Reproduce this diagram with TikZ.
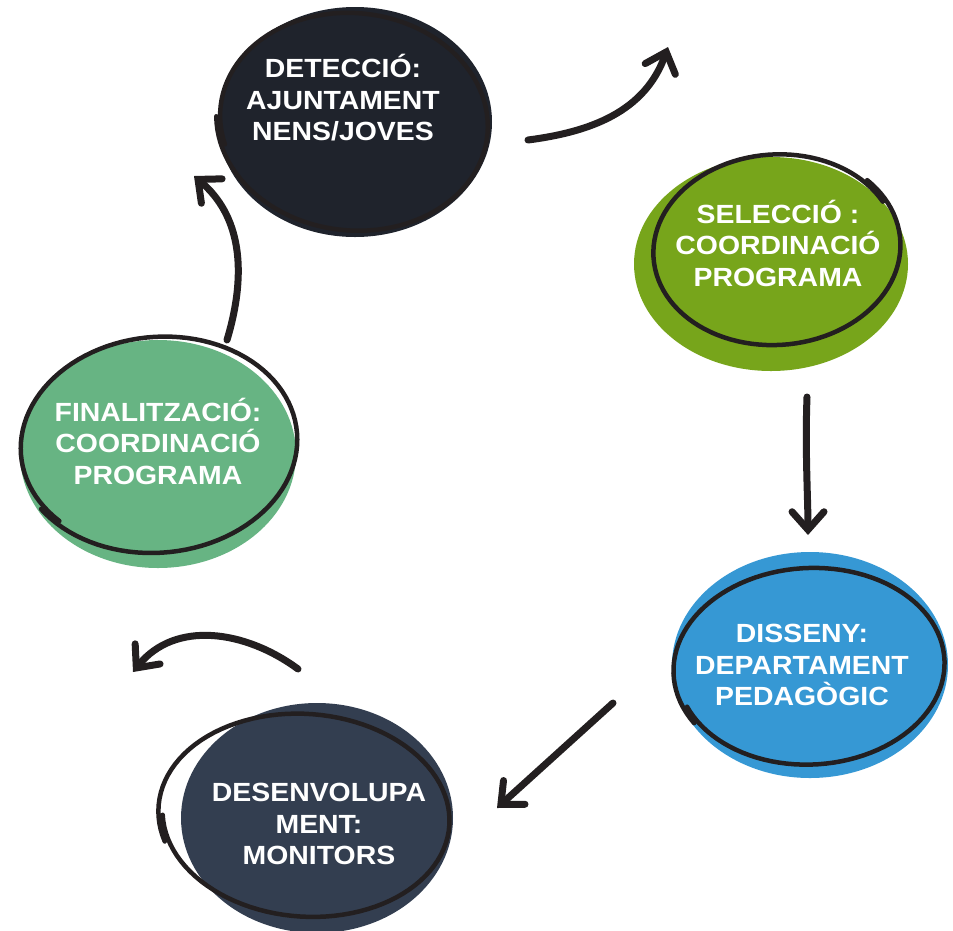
\documentclass[tikz,border=0pt]{standalone}
\usepackage{fontspec}
\setmainfont{Liberation Sans}[FakeStretch=1.08]
\usetikzlibrary{shapes.geometric,arrows.meta}

\definecolor{ink}{HTML}{231F20}
\definecolor{detfill}{HTML}{1F232C}
\definecolor{selfill}{HTML}{77A51B}
\definecolor{disfill}{HTML}{3698D4}
\definecolor{desfill}{HTML}{333E50}
\definecolor{finfill}{HTML}{67B483}

\begin{document}
\begin{tikzpicture}[x=1pt,y=-1pt]
\tikzstyle{every node}+=[inner sep=0pt]
\tikzstyle{blob}=[ellipse, draw=none, inner sep=0pt]
\tikzstyle{sketch}=[draw=ink, line width=4.5pt, line cap=round, line join=round]
\tikzstyle{label}=[text=white, align=center, font=\bfseries\fontsize{26.3}{31.5}\selectfont]
\tikzstyle{flow}=[draw=ink, line width=7pt, line cap=round,
  -{Straight Barb[length=18pt, width=32pt, line cap=round]}]
\useasboundingbox (0,0) rectangle (953,930);

% filled blobs
\node [blob, fill=detfill, minimum width=274pt, minimum height=230pt] (det) at (355,122) {};
\node [blob, fill=selfill, minimum width=274pt, minimum height=214pt] (sel) at (771,264) {};
\node [blob, fill=disfill, minimum width=276pt, minimum height=226pt] (dis) at (810,665) {};
\node [blob, fill=desfill, minimum width=272pt, minimum height=230pt] (des) at (317,818) {};
\node [blob, fill=finfill, minimum width=276pt, minimum height=228pt] (fin) at (158,454) {};

% hand drawn rings
\begin{scope}[shift={(353,121)}, rotate=-6]
\draw [sketch] plot[domain=160:535, samples=110] ({133*(1+0.03*(\x-160)/375)*cos(\x)}, {107*(1+0.03*(\x-160)/375)*sin(\x)});
\end{scope}
\begin{scope}[shift={(776,249)}, rotate=4]
\draw [sketch] plot[domain=-40:335, samples=110] ({125*(1-0.03*(\x+40)/375)*cos(\x)}, {97*(1-0.03*(\x+40)/375)*sin(\x)});
\end{scope}
\begin{scope}[shift={(810,667)}, rotate=3]
\draw [sketch] plot[domain=150:520, samples=110] ({137*(1-0.03*(\x-150)/370)*cos(\x)}, {100*(1-0.03*(\x-150)/370)*sin(\x)});
\end{scope}
\begin{scope}[shift={(305,816)}, rotate=-4]
\draw [sketch] plot[domain=160:535, samples=110] ({147*(1-0.03*(\x-160)/375)*cos(\x)}, {103*(1-0.03*(\x-160)/375)*sin(\x)});
\end{scope}
\begin{scope}[shift={(158,444)}, rotate=5]
\draw [sketch] plot[domain=140:510, samples=110] ({137*(1+0.03*(\x-140)/370)*cos(\x)}, {106*(1+0.03*(\x-140)/370)*sin(\x)});
\end{scope}

% texts
\node [label] (det-t) at (343,98) {DETECCIÓ:\\AJUNTAMENT\\NENS/JOVES};
\node [label] (sel-t) at (778,243) {SELECCIÓ :\\COORDINACIÓ\\PROGRAMA};
\node [label] (dis-t) at (802,665) {DISSENY:\\DEPARTAMENT\\PEDAGÒGIC};
\node [label] (des-t) at (319,824) {DESENVOLUPA\\MENT:\\MONITORS};
\node [label] (fin-t) at (158,441) {FINALITZACIÓ:\\COORDINACIÓ\\PROGRAMA};

% arrows between steps
\coordinate (a1s) at (528,140);
\coordinate (a1e) at (668,47);
\coordinate (a2s) at (807,397);
\coordinate (a2e) at (808,535);
\coordinate (a3s) at (613,703);
\coordinate (a3e) at (497,808);
\coordinate (a4s) at (298,669);
\coordinate (a4e) at (133,672);
\coordinate (a5s) at (227,340);
\coordinate (a5e) at (194,176);
\draw [flow] (a1s) .. controls (590,132) and (645,112) .. (a1e);
\draw [flow] (a2s) .. controls (805,450) and (808,500) .. (a2e);
\draw [flow] (a3s) -- (a3e);
\draw [flow] (a4s) .. controls (245,630) and (175,620) .. (a4e);
\draw [flow] (a5s) .. controls (248,270) and (240,215) .. (a5e);
\end{tikzpicture}
\end{document}
